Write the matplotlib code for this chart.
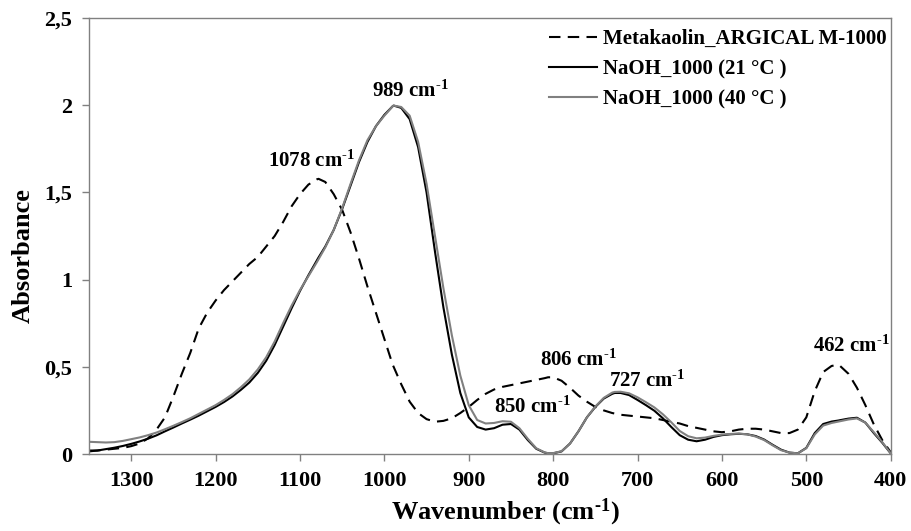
import matplotlib
matplotlib.use("Agg")
import matplotlib.pyplot as plt

# FTIR absorbance spectra (wavenumber in cm-1, descending)
wavenumber = [
    1350, 1340, 1330, 1320, 1310, 1300, 1290, 1280, 1270, 1260,
    1250, 1240, 1230, 1220, 1210, 1200, 1190, 1180, 1170, 1160,
    1150, 1140, 1130, 1120, 1110, 1100, 1090, 1080, 1078, 1070,
    1060, 1050, 1040, 1030, 1020, 1010, 1000, 990, 989, 980,
    970, 960, 950, 940, 930, 920, 910, 900, 890, 880,
    870, 860, 850, 840, 830, 820, 810, 806, 800, 790,
    780, 770, 760, 750, 740, 730, 727, 720, 710, 700,
    690, 680, 670, 660, 650, 640, 630, 620, 610, 600,
    590, 580, 570, 560, 550, 540, 530, 520, 510, 500,
    490, 480, 470, 462, 460, 450, 440, 430, 420, 410,
    400,
]

metakaolin = [
    0.02, 0.02, 0.025, 0.03, 0.035, 0.045, 0.06, 0.09, 0.14, 0.21,
    0.33, 0.46, 0.58, 0.72, 0.81, 0.88, 0.94, 0.99, 1.04, 1.09,
    1.13, 1.19, 1.25, 1.33, 1.42, 1.49, 1.545, 1.575, 1.578, 1.56,
    1.49, 1.40, 1.27, 1.12, 0.96, 0.81, 0.66, 0.51, 0.50, 0.40,
    0.30, 0.235, 0.20, 0.185, 0.19, 0.205, 0.235, 0.27, 0.31, 0.345,
    0.37, 0.385, 0.395, 0.405, 0.415, 0.425, 0.435, 0.44, 0.44, 0.42,
    0.38, 0.335, 0.30, 0.27, 0.25, 0.235, 0.232, 0.225, 0.22, 0.215,
    0.21, 0.205, 0.195, 0.185, 0.175, 0.16, 0.15, 0.14, 0.13, 0.125,
    0.13, 0.14, 0.145, 0.145, 0.14, 0.13, 0.12, 0.12, 0.14, 0.21,
    0.36, 0.47, 0.505, 0.512, 0.505, 0.46, 0.38, 0.28, 0.17, 0.08,
    0.01,
]

naoh_21 = [
    0.015, 0.02, 0.028, 0.036, 0.046, 0.058, 0.072, 0.088, 0.107, 0.13,
    0.152, 0.175, 0.197, 0.22, 0.245, 0.27, 0.298, 0.33, 0.368, 0.41,
    0.465, 0.535, 0.625, 0.73, 0.835, 0.935, 1.025, 1.11, 1.127, 1.19,
    1.285, 1.405, 1.54, 1.675, 1.79, 1.88, 1.945, 1.995, 1.998, 1.985,
    1.92, 1.76, 1.50, 1.16, 0.84, 0.57, 0.35, 0.21, 0.155, 0.14,
    0.148, 0.168, 0.172, 0.14, 0.08, 0.03, 0.008, 0.004, 0.004, 0.015,
    0.06, 0.13, 0.21, 0.27, 0.318, 0.345, 0.35, 0.35, 0.338, 0.31,
    0.28, 0.248, 0.205, 0.155, 0.108, 0.082, 0.073, 0.082, 0.098, 0.108,
    0.113, 0.116, 0.113, 0.103, 0.083, 0.053, 0.025, 0.008, 0.004, 0.035,
    0.12, 0.172, 0.186, 0.192, 0.194, 0.203, 0.208, 0.18, 0.12, 0.065,
    0.004,
]

naoh_40 = [
    0.07, 0.068, 0.066, 0.068, 0.075, 0.085, 0.095, 0.108, 0.123, 0.142,
    0.162, 0.183, 0.205, 0.23, 0.255, 0.28, 0.31, 0.343, 0.383, 0.428,
    0.485, 0.555, 0.645, 0.75, 0.85, 0.94, 1.02, 1.10, 1.117, 1.185,
    1.285, 1.41, 1.55, 1.685, 1.80, 1.88, 1.94, 1.995, 1.998, 1.99,
    1.94, 1.79, 1.55, 1.25, 0.95, 0.68, 0.45, 0.28, 0.195, 0.175,
    0.178, 0.188, 0.185, 0.148, 0.087, 0.033, 0.009, 0.005, 0.005, 0.016,
    0.06, 0.13, 0.21, 0.272, 0.322, 0.352, 0.356, 0.357, 0.348, 0.325,
    0.297, 0.267, 0.228, 0.182, 0.132, 0.102, 0.09, 0.094, 0.104, 0.111,
    0.115, 0.117, 0.113, 0.10, 0.08, 0.05, 0.022, 0.008, 0.004, 0.033,
    0.112, 0.163, 0.178, 0.186, 0.188, 0.198, 0.204, 0.18, 0.125, 0.068,
    0.004,
]

# labelled bands and where their labels sit
band_peaks = [1078, 989, 850, 806, 727, 462]
band_label_pos = [(1086, 1.68), (969, 2.08), (824, 0.27), (770, 0.54), (688, 0.42), (446, 0.62)]

x_ticks = [1300, 1200, 1100, 1000, 900, 800, 700, 600, 500, 400]
y_ticks = [0, 0.5, 1, 1.5, 2, 2.5]
y_ticklabels = ["0", "0,5", "1", "1,5", "2", "2,5"]

plt.rcParams["font.family"] = "Liberation Serif"
plt.rcParams["font.weight"] = "bold"
plt.rcParams["mathtext.fontset"] = "custom"
plt.rcParams["mathtext.rm"] = "Liberation Serif:bold"
plt.rcParams["mathtext.bf"] = "Liberation Serif:bold"
plt.rcParams["mathtext.default"] = "rm"

SUP = r"$^{\text{-1}}$"

fig = plt.figure(figsize=(9.11, 5.31), dpi=100)
ax = fig.add_axes([0.0977, 0.145, 0.880, 0.821])

ax.plot(wavenumber, metakaolin, color="black", lw=1.5, dashes=(5.5, 3.5),
        label="Metakaolin_ARGICAL M-1000")
ax.plot(wavenumber, naoh_21, color="black", lw=1.5, label="NaOH_1000 (21 °C )")
ax.plot(wavenumber, naoh_40, color="#808080", lw=1.5, label="NaOH_1000 (40 °C )")

for w, (tx, ty) in zip(band_peaks, band_label_pos):
    ax.text(tx, ty, f"{w} cm" + SUP, ha="center", va="center", fontsize=15,
            fontweight="bold")

ax.set_xlim(1350, 400)
ax.set_ylim(0, 2.5)
ax.set_xticks(x_ticks)
ax.set_yticks(y_ticks)
ax.set_yticklabels(y_ticklabels)
ax.tick_params(axis="both", direction="out", length=5, width=1, color="#808080",
               labelsize=16, pad=7)

for s in ax.spines.values():
    s.set_color("#808080")
    s.set_linewidth(1)

ax.set_xlabel("Wavenumber (cm" + SUP + ")", fontsize=19, fontweight="bold")
ax.xaxis.set_label_coords(0.519, -0.098)
ax.set_ylabel("Absorbance", fontsize=19, fontweight="bold")
ax.yaxis.set_label_coords(-0.068, 0.456)

ax.legend(loc="upper right", bbox_to_anchor=(0.995, 0.975), frameon=False,
          fontsize=15, handlelength=2.3, handletextpad=0.3, borderpad=0,
          labelspacing=0.5, borderaxespad=0)

fig.savefig("out.png", dpi=100)
